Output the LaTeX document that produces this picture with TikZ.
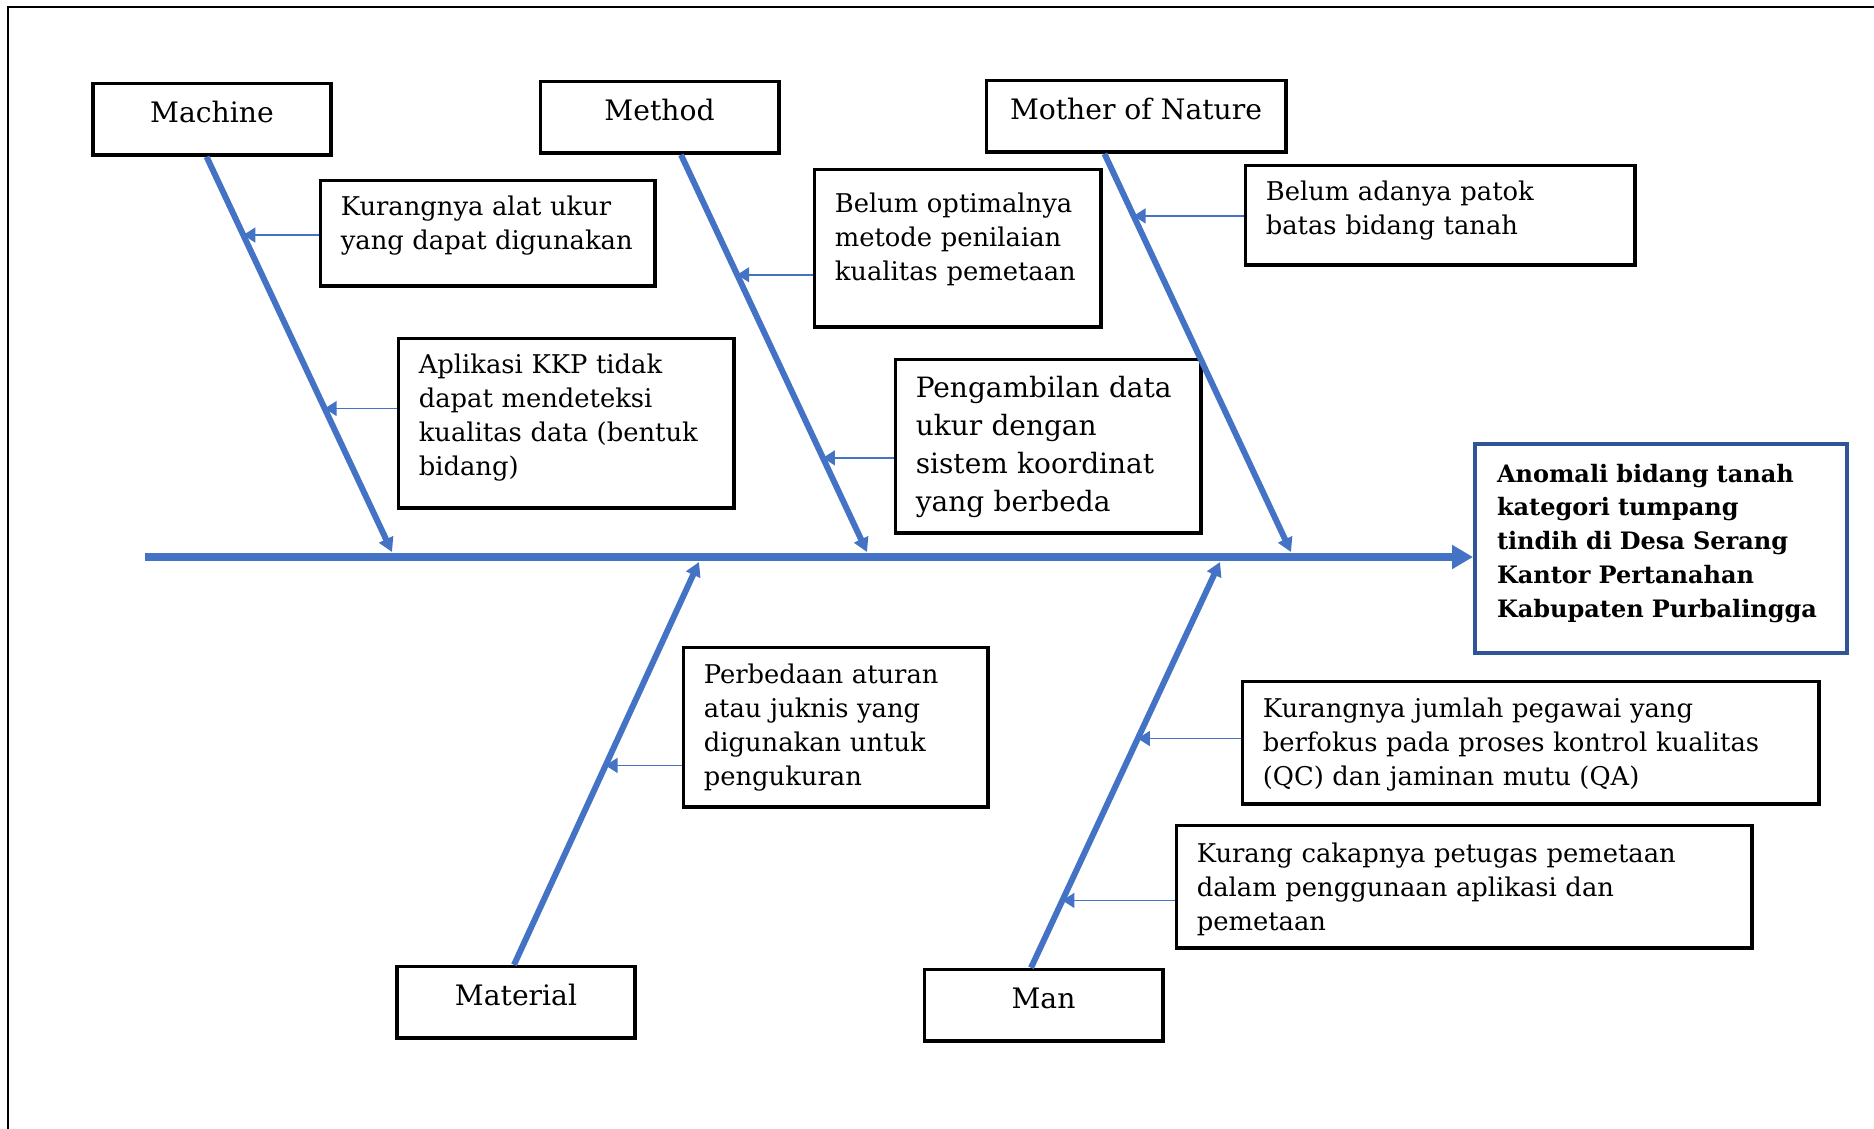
\documentclass[tikz,border=0pt]{standalone}
\usepackage{fontspec}
\setmainfont{DejaVu Serif}
\usetikzlibrary{arrows.meta,calc}
\definecolor{boneblue}{HTML}{4472C4}
\definecolor{effectblue}{HTML}{2F5597}
\tikzset{
    >={Triangle[length=7pt, width=7.5pt]},
    category/.style={draw, line width=1.8pt, anchor=north, minimum width=119.2pt,
        inner ysep=0pt, text height=19.6pt, text depth=16.1pt,
        font=\fontsize{14.1}{17}\selectfont},
    cause/.style={draw, line width=1.8pt, anchor=north west, align=left,
        inner xsep=10.1pt, inner ysep=0pt, text height=17.6pt,
        font=\fontsize{12.9}{16.9}\selectfont},
    effect/.style={draw=effectblue, line width=2pt, anchor=north west, align=left,
        inner xsep=11pt, inner ysep=0pt, text height=19pt,
        font=\fontsize{12}{16.9}\selectfont\bfseries},
    spine/.style={draw=boneblue, line width=3.8pt, -{Triangle[length=10.5pt, width=11.5pt]}},
    bone/.style={draw=boneblue, line width=3pt, ->},
    twig/.style={draw=boneblue, line width=0.75pt, -{Triangle[length=6pt, width=7.5pt]}},
}

\begin{document}
\begin{tikzpicture}[x=0.5pt, y=-0.5pt]
    \useasboundingbox (0,0) rectangle (1874,1129);
    \draw[line width=1pt] (8,1129) |- (1874,7);

    % categories
    \node[category] (machine) at (212,81.8) {Machine};
    \node[category] (method) at (659.5,79.8) {Method};
    \node[category, minimum width=149.7pt] (mother) at (1136,78.8) {Mother of Nature};
    \node[category] (material) at (516,964.8) {Material};
    \node[category] (man) at (1043.5,967.8) {Man};

    % causes
    \node[cause, text width=147pt, text depth=35.1pt] (alat) at (318.8,178.8)
        {Kurangnya alat ukur\\yang dapat digunakan};
    \node[cause, text width=147.5pt, text depth=67.1pt] (aplikasi) at (396.8,336.8)
        {Aplikasi KKP tidak\\dapat mendeteksi\\kualitas data (bentuk\\bidang)};
    \node[cause, text width=123pt, text height=21.6pt, text depth=57.1pt] (metode) at (812.8,167.8)
        {Belum optimalnya\\metode penilaian\\kualitas pemetaan};
    \node[cause, text width=132.5pt, text height=19.1pt, text depth=67.6pt,
        font=\fontsize{14}{18.9}\selectfont] (koordinat) at (893.8,357.8)
        {Pengambilan data\\ukur dengan\\sistem koordinat\\yang berbeda};
    \node[cause, text width=174.5pt, text depth=32.1pt] (patok) at (1243.8,163.8)
        {Belum adanya patok\\batas bidang tanah};
    \node[cause, text width=132pt, text height=18.1pt, text depth=61.6pt] (juknis) at (681.8,645.8)
        {Perbedaan aturan\\atau juknis yang\\digunakan untuk\\pengukuran};
    \node[cause, text width=268pt, text height=18.1pt, text depth=43.1pt] (pegawai) at (1240.8,679.8)
        {Kurangnya jumlah pegawai yang\\berfokus pada proses kontrol kualitas\\(QC) dan jaminan mutu (QA)};
    \node[cause, text width=267.5pt, text height=18.6pt, text depth=42.6pt] (petugas) at (1174.8,823.8)
        {Kurang cakapnya petugas pemetaan\\dalam penggunaan aplikasi dan\\pemetaan};

    % effect
    \node[effect, text width=164pt, text depth=85.5pt] (anomali) at (1473,442)
        {Anomali bidang tanah\\kategori tumpang\\tindih di Desa Serang\\Kantor Pertanahan\\Kabupaten Purbalingga};

    % spine and bones
    \coordinate (tail) at (145,557);
    \coordinate (j1) at (392,552);
    \coordinate (j2) at (867,552);
    \coordinate (j3) at (1291,552);
    \coordinate (j4) at (699,562);
    \coordinate (j5) at (1220,562);
    \coordinate (b1) at ([xshift=-2.7pt]machine.south);
    \coordinate (b2) at ([xshift=10.75pt]method.south);
    \coordinate (b3) at ([xshift=-15.75pt]mother.south);
    \coordinate (b4) at ([xshift=-1pt]material.north);
    \coordinate (b5) at ([xshift=-6.25pt]man.north);

    \draw[spine] (tail) -- (tail -| anomali.west);
    \draw[bone] (b1) -- (j1);
    \draw[bone] (b2) -- (j2);
    \draw[bone] (b3) -- (j3);
    \draw[bone] (b4) -- (j4);
    \draw[bone] (b5) -- (j5);

    % small arrows
    \coordinate (t1) at ($(b1)!0.198!(j1)$);
    \coordinate (t2) at ($(b1)!0.637!(j1)$);
    \coordinate (t3) at ($(b2)!0.302!(j2)$);
    \coordinate (t4) at ($(b2)!0.763!(j2)$);
    \coordinate (t5) at ($(b3)!0.156!(j3)$);
    \coordinate (t6) at ($(b4)!0.495!(j4)$);
    \coordinate (t7) at ($(b5)!0.565!(j5)$);
    \coordinate (t8) at ($(b5)!0.166!(j5)$);
    \draw[twig] (t1 -| alat.west) -- (t1);
    \draw[twig] (t2 -| aplikasi.west) -- (t2);
    \draw[twig] (t3 -| metode.west) -- (t3);
    \draw[twig] (t4 -| koordinat.west) -- (t4);
    \draw[twig] (t5 -| patok.west) -- (t5);
    \draw[twig] (t6 -| juknis.west) -- (t6);
    \draw[twig] (t7 -| pegawai.west) -- (t7);
    \draw[twig] (t8 -| petugas.west) -- (t8);
\end{tikzpicture}
\end{document}
